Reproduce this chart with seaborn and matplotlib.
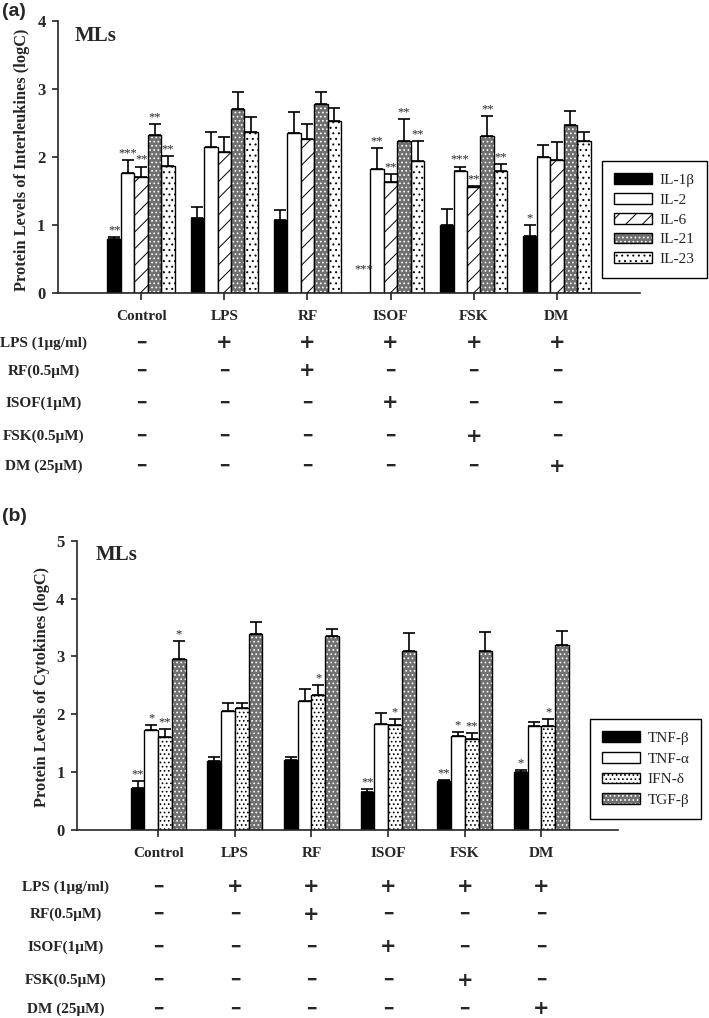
import numpy as np
import pandas as pd
import matplotlib
matplotlib.use("Agg")
import matplotlib.pyplot as plt
import matplotlib.transforms as mtransforms
from matplotlib.patches import Patch, Rectangle
import seaborn as sns

groups = ["Control", "LPS", "RF", "ISOF", "FSK", "DM"]

# (a) interleukines, logC
il_names = ["IL-1β", "IL-2", "IL-6", "IL-21", "IL-23"]
il_1b = [0.80, 1.10, 1.07, 0.00, 1.00, 0.84]
il_1b_err = [0.02, 0.17, 0.15, 0.00, 0.23, 0.16]
il_2 = [1.77, 2.14, 2.35, 1.83, 1.79, 2.00]
il_2_err = [0.18, 0.23, 0.31, 0.30, 0.07, 0.18]
il_6 = [1.71, 2.07, 2.26, 1.63, 1.56, 1.95]
il_6_err = [0.15, 0.23, 0.22, 0.12, 0.01, 0.27]
il_21 = [2.32, 2.70, 2.78, 2.24, 2.31, 2.47]
il_21_err = [0.17, 0.25, 0.18, 0.32, 0.29, 0.21]
il_23 = [1.87, 2.37, 2.53, 1.94, 1.80, 2.23]
il_23_err = [0.14, 0.22, 0.19, 0.29, 0.10, 0.14]
il_1b_sig = ["**", "", "", "***", "", "*"]
il_2_sig = ["***", "", "", "**", "***", ""]
il_6_sig = ["**", "", "", "**", "**", ""]
il_21_sig = ["**", "", "", "**", "**", ""]
il_23_sig = ["**", "", "", "**", "**", ""]

# (b) cytokines, logC
cy_names = ["TNF-β", "TNF-α", "IFN-δ", "TGF-β"]
tnf_b = [0.73, 1.19, 1.21, 0.66, 0.84, 1.01]
tnf_b_err = [0.11, 0.08, 0.06, 0.04, 0.03, 0.02]
tnf_a = [1.72, 2.06, 2.23, 1.83, 1.62, 1.79]
tnf_a_err = [0.09, 0.14, 0.20, 0.20, 0.07, 0.08]
ifn_d = [1.61, 2.11, 2.33, 1.81, 1.57, 1.79]
ifn_d_err = [0.14, 0.08, 0.17, 0.10, 0.10, 0.13]
tgf_b = [2.96, 3.38, 3.36, 3.09, 3.09, 3.19]
tgf_b_err = [0.31, 0.22, 0.11, 0.31, 0.34, 0.25]
tnf_b_sig = ["**", "", "", "**", "**", "*"]
tnf_a_sig = ["*", "", "", "", "*", ""]
ifn_d_sig = ["**", "", "*", "*", "**", "*"]
tgf_b_sig = ["*", "", "", "", "", ""]

treat_labels = ["LPS (1μg/ml)", "RF(0.5μM)", "ISOF(1μM)", "FSK(0.5μM)", "DM (25μM)"]
treat_lps = ["–", "+", "+", "+", "+", "+"]
treat_rf = ["–", "–", "+", "–", "–", "–"]
treat_isof = ["–", "–", "–", "+", "–", "–"]
treat_fsk = ["–", "–", "–", "–", "+", "–"]
treat_dm = ["–", "–", "–", "–", "–", "+"]
treat_rows = [treat_lps, treat_rf, treat_isof, treat_fsk, treat_dm]

sns.set_style("ticks")
plt.rcParams["font.family"] = ["Liberation Serif", "DejaVu Serif"]
plt.rcParams["hatch.linewidth"] = 0.7
plt.rcParams["axes.linewidth"] = 1.2

W, H = 709, 1018
fig = plt.figure(figsize=(W / 100, H / 100), dpi=100)
axA = fig.add_axes([58 / W, 1 - 293 / H, 582 / W, 272 / H])
axB = fig.add_axes([77 / W, 1 - 830 / H, 541 / W, 289.3 / H])

GRAY = "#707070"


def long_df(names, series):
    rows = []
    for n, vals in zip(names, series):
        for g, v in zip(groups, vals):
            rows.append({"group": g, "cytokine": n, "value": v})
    return pd.DataFrame(rows)


def draw_panel(ax, names, series, errs, sigs, styles, width):
    df = long_df(names, series)
    pal = {n: s[0] for n, s in zip(names, styles)}
    sns.barplot(data=df, x="group", y="value", hue="cytokine", order=groups,
                hue_order=names, palette=pal, saturation=1, errorbar=None,
                width=width, gap=0, edgecolor="black", linewidth=1.0,
                legend=False, ax=ax)
    bars = list(ax.containers)
    for cont, err, sig, (fc, hatch) in zip(bars, errs, sigs, styles):
        xs, ys = [], []
        for p in cont:
            if hatch == "wdots":
                p.set_hatch("....")
                p.set_edgecolor("white")
                p.set_linewidth(0)
                ax.add_patch(Rectangle(p.get_xy(), p.get_width(), p.get_height(),
                                       fill=False, ec="black", lw=1.0, zorder=p.get_zorder()))
            elif hatch:
                p.set_hatch(hatch)
            xs.append(p.get_x() + p.get_width() / 2)
            ys.append(p.get_height())
        xs, ys, err = np.array(xs), np.array(ys), np.array(err)
        show = err > 0
        ax.errorbar(xs[show], ys[show], yerr=[np.zeros(show.sum()), err[show]],
                    fmt="none", ecolor="black", elinewidth=1.2, capsize=4.5,
                    capthick=1.2, zorder=1)
        for x, y, e, s in zip(xs, ys, err, sig):
            if s:
                base = y + e if y > 0 else 0.25
                ax.annotate(s, (x, base), xytext=(0, 0.5), textcoords="offset points",
                            ha="center", va="bottom", fontsize=9)
    sns.despine(ax=ax)
    ax.set_xlabel("")
    ax.tick_params(axis="x", length=5, width=1.2, pad=7, labelsize=11)
    ax.tick_params(axis="y", length=4, width=1.2, pad=5, labelsize=12)
    for lab in ax.get_xticklabels() + ax.get_yticklabels():
        lab.set_fontweight("bold")


def legend_handles(names, styles):
    hs = []
    for fc, hatch in styles:
        if hatch == "wdots":
            hs.append((Patch(fc=fc, ec="white", hatch="....", lw=0),
                       Patch(fill=False, ec="black", lw=1.0)))
        else:
            hs.append(Patch(fc=fc, ec="black", hatch=hatch, lw=1.0))
    return hs


def add_legend(ax, names, styles, corner, spacing):
    leg = ax.legend(legend_handles(names, styles), names, loc="upper left",
                    bbox_to_anchor=(corner[0] / W, 1 - corner[1] / H),
                    bbox_transform=fig.transFigure, borderaxespad=0,
                    frameon=True, fancybox=False, edgecolor="black", framealpha=1,
                    fontsize=11, handlelength=2.5, handleheight=0.7, labelspacing=spacing,
                    handletextpad=0.45, borderpad=0.8)
    leg.get_frame().set_linewidth(1.0)


def draw_table(ax, row_y, label_x):
    trans = mtransforms.blended_transform_factory(ax.transData, fig.transFigure)
    for lab, row, y in zip(treat_labels, treat_rows, row_y):
        fig.text(label_x / W, 1 - y / H, lab, ha="center", va="center",
                 fontsize=11, fontweight="bold")
        for j, sym in enumerate(row):
            if sym == "+":
                ax.text(j, 1 - y / H, "+", transform=trans, ha="center", va="center",
                        fontsize=14, fontweight="bold", family="DejaVu Sans", clip_on=False)
            else:
                ax.text(j, 1 - y / H, "━", transform=trans, ha="center", va="center",
                        fontsize=10, family="DejaVu Sans", clip_on=False)


# panel (a)
il_styles = [("black", ""), ("white", ""), ("white", "//"), (GRAY, "wdots"), ("white", "...")]
draw_panel(axA, il_names, [il_1b, il_2, il_6, il_21, il_23],
           [il_1b_err, il_2_err, il_6_err, il_21_err, il_23_err],
           [il_1b_sig, il_2_sig, il_6_sig, il_21_sig, il_23_sig], il_styles, 0.81)
axA.set_xlim(-1.0, 6.0)
axA.set_ylim(0, 4)
axA.set_yticks([0, 1, 2, 3, 4])
axA.set_ylabel("Protein Levels of Interleukines (logC)", fontsize=11.8, fontweight="bold")
axA.yaxis.set_label_coords(-0.048, 0.49)
add_legend(axA, il_names, il_styles, (602, 161), 0.4)
fig.text(96 / W, 1 - 36 / H, "MLs", ha="center", va="center", fontsize=15, fontweight="bold")
fig.text(2 / W, 1 - 3 / H, "(a)", ha="left", va="top", fontsize=14, fontweight="bold",
         family="Liberation Sans")
draw_table(axA, [343, 371, 403, 436, 466], 44)

# panel (b)
cy_styles = [("black", ""), ("white", ""), ("white", "...."), (GRAY, "wdots")]
draw_panel(axB, cy_names, [tnf_b, tnf_a, ifn_d, tgf_b],
           [tnf_b_err, tnf_a_err, ifn_d_err, tgf_b_err],
           [tnf_b_sig, tnf_a_sig, ifn_d_sig, tgf_b_sig], cy_styles, 0.72)
axB.set_xlim(-1.06, 6.0)
axB.set_ylim(0, 5)
axB.set_yticks([0, 1, 2, 3, 4, 5])
axB.set_ylabel("Protein Levels of Cytokines (logC)", fontsize=11.8, fontweight="bold")
axB.yaxis.set_label_coords(-0.05, 0.496)
add_legend(axB, cy_names, cy_styles, (590, 719), 0.46)
fig.text(117 / W, 1 - 555 / H, "MLs", ha="center", va="center", fontsize=15, fontweight="bold")
fig.text(2 / W, 1 - 508 / H, "(b)", ha="left", va="top", fontsize=14, fontweight="bold",
         family="Liberation Sans")
draw_table(axB, [887, 914, 947, 980, 1009], 66)

fig.savefig("out.png", dpi=100)
